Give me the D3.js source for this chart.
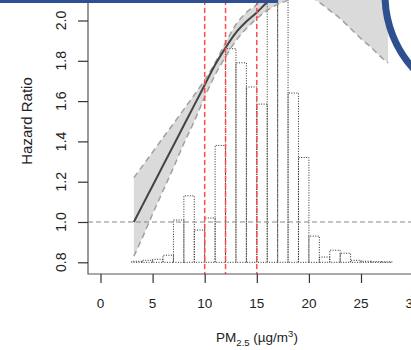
<!DOCTYPE html>
<html>
<head>
<meta charset="utf-8">
<script src="https://cdn.jsdelivr.net/npm/d3@7"></script>
<style>
  body{margin:0;background:#fff;}
  svg{display:block;}
  text{font-family:"Liberation Sans", Arial, sans-serif;fill:#222;}
</style>
</head>
<body>
<svg></svg>
<script>
var w=411;
var h=350;

// spline fit and 95% CI
var pmGrid  =[3.2, 4,    5,    6,    7,    8,    9,    10,   11,   12,   13,   14,   15,   16,   17,   18,   19,   20,   21,   22,   23,   24,   25,   26,   27,   27.6];
var hrFit   =[1.00, 1.08, 1.18, 1.28, 1.38, 1.48, 1.58, 1.68, 1.78, 1.865,1.94, 1.995,2.04, 2.09, 2.13, 2.16, 2.19, 2.21, 2.23, 2.24, 2.25, 2.25, 2.25, 2.24, 2.23, 2.22];
var hrLower =[0.83, 0.92, 1.04, 1.155,1.27, 1.39, 1.50, 1.62, 1.73, 1.82, 1.90, 1.96, 2.01, 2.05, 2.08, 2.10, 2.12, 2.12, 2.09, 2.05, 2.01, 1.96, 1.91, 1.865,1.815,1.79];
var hrUpper =[1.22, 1.276,1.347,1.418,1.488,1.559,1.63, 1.705,1.79, 1.89, 1.98, 2.04, 2.08, 2.15, 2.20, 2.25, 2.30, 2.35, 2.40, 2.45, 2.50, 2.55, 2.60, 2.65, 2.70, 2.73];

// exposure distribution (drawn on the HR scale from 0.8)
var binStart=[3,    4,    5,    6,    7,    8,    9,    10,   11,   12,   13,   14,   15,    16,   17,   18,   19,   20,   21,   22,   23,   24,   25,    26,    27];
var binTop  =[0.805,0.81, 0.815,0.835,1.01, 1.13, 0.96, 1.02, 1.38, 1.86, 1.79, 1.67, 1.585, 2.3,  2.4,  1.64, 1.32, 0.93, 0.826,0.86, 0.845,0.81, 0.805, 0.803, 0.802];

var refLines=[10, 12, 15];
var xTicks=[0, 5, 10, 15, 20, 25, 30];
var yTicks=[0.8, 1.0, 1.2, 1.4, 1.6, 1.8, 2.0];
var yLabels=["0.8", "1.0", "1.2", "1.4", "1.6", "1.8", "2.0"];

var x=d3.scaleLinear().domain([0, 30]).range([100.5, 413.1]);
var y=d3.scaleLinear().domain([0.8, 2.0]).range([262.3, 20.5]);

var axisY=274, axisX=88;

var svg=d3.select("svg").attr("width", w).attr("height", h).style("background", "#fff");

svg.append("defs").append("clipPath").attr("id", "plot")
  .append("rect").attr("x", axisX).attr("y", 0).attr("width", w-axisX+5).attr("height", axisY);

var g=svg.append("g").attr("clip-path", "url(#plot)");

var pts=pmGrid.map(function(p, i){ return {p:p, fit:hrFit[i], lo:hrLower[i], hi:hrUpper[i]}; });

// CI band
g.append("path")
  .datum(pts)
  .attr("d", d3.area().x(function(d){return x(d.p);}).y0(function(d){return y(d.lo);}).y1(function(d){return y(d.hi);}).curve(d3.curveMonotoneX))
  .attr("fill", "#dadada");

// histogram, each bar a dotted rect
g.selectAll("path.bar")
  .data(binStart)
  .enter()
  .append("path")
  .attr("class", "bar")
  .attr("d", function(d, i){
    var x0=x(d), x1=x(d+1), y0=y(0.8), y1=y(binTop[i]);
    return "M"+x0+","+y0+"V"+y1+"H"+x1+"V"+y0+"Z";
  })
  .attr("fill", "none")
  .attr("stroke", "#2a2a2a")
  .attr("stroke-width", 1)
  .attr("stroke-dasharray", "1,1.5");

// reference HR = 1
g.append("line")
  .attr("x1", axisX).attr("x2", w)
  .attr("y1", y(1)).attr("y2", y(1))
  .attr("stroke", "#888").attr("stroke-width", 1.2)
  .attr("stroke-dasharray", "5,3");

// CI borders
["lo", "hi"].forEach(function(k){
  g.append("path")
    .datum(pts)
    .attr("d", d3.line().x(function(d){return x(d.p);}).y(function(d){return y(d[k]);}).curve(d3.curveMonotoneX))
    .attr("fill", "none")
    .attr("stroke", "#a0a0a0").attr("stroke-width", 1.5)
    .attr("stroke-dasharray", "6,4");
});

// fitted curve
g.append("path")
  .datum(pts)
  .attr("d", d3.line().x(function(d){return x(d.p);}).y(function(d){return y(d.fit);}).curve(d3.curveMonotoneX))
  .attr("fill", "none")
  .attr("stroke", "#444").attr("stroke-width", 2);

// guideline values
g.selectAll("line.ref")
  .data(refLines)
  .enter()
  .append("line")
  .attr("class", "ref")
  .attr("x1", function(d){return x(d);}).attr("x2", function(d){return x(d);})
  .attr("y1", 0).attr("y2", axisY)
  .attr("stroke", "#ff4a4a").attr("stroke-width", 1.5)
  .attr("stroke-dasharray", "5,3");

// box (left + bottom)
svg.append("path")
  .attr("d", "M"+axisX+",0V"+axisY+"H"+w)
  .attr("fill", "none").attr("stroke", "#555").attr("stroke-width", 1.2);

// x axis
var xa=svg.append("g").attr("transform", "translate(0,"+axisY+")")
  .call(d3.axisBottom(x).tickValues(xTicks).tickSize(9).tickFormat(""));
xa.select(".domain").remove();
xa.selectAll(".tick line").attr("stroke", "#333").attr("stroke-width", 1.2);

svg.selectAll("text.xt")
  .data(xTicks)
  .enter()
  .append("text")
  .attr("class", "xt")
  .attr("text-anchor", "middle")
  .attr("font-size", "13.5px")
  .attr("transform", function(d){ return "translate("+x(d)+",308)"; })
  .text(function(d){return d;});

// y axis
var ya=svg.append("g").attr("transform", "translate("+axisX+",0)")
  .call(d3.axisLeft(y).tickValues(yTicks).tickSize(10).tickFormat(""));
ya.select(".domain").remove();
ya.selectAll(".tick line").attr("stroke", "#333").attr("stroke-width", 1.2);

svg.selectAll("text.yt")
  .data(yTicks)
  .enter()
  .append("text")
  .attr("class", "yt")
  .attr("text-anchor", "middle")
  .attr("font-size", "14px")
  .attr("transform", function(d){ return "translate(66,"+y(d)+") rotate(-90)"; })
  .text(function(d, i){return yLabels[i];});

svg.append("text")
  .attr("text-anchor", "middle")
  .attr("font-size", "15px")
  .attr("transform", "translate(32,121) rotate(-90)")
  .text("Hazard Ratio");

var xt=svg.append("text")
  .attr("text-anchor", "middle")
  .attr("x", 257).attr("y", 342)
  .attr("font-size", "13.5px");
xt.append("tspan").text("PM");
xt.append("tspan").attr("font-size", "9.5px").attr("dy", 4).text("2.5");
xt.append("tspan").attr("dy", -4).text(" (\u00b5g/m");
xt.append("tspan").attr("font-size", "9.5px").attr("dy", -5).text("3");
xt.append("tspan").attr("dy", 5).text(")");

// slide decoration: blue strip on top and ring on the right
svg.append("rect").attr("x", 0).attr("y", 0).attr("width", 278).attr("height", 3).attr("fill", "#2e5090");
svg.append("circle").attr("cx", 495).attr("cy", -5).attr("r", 110)
  .attr("fill", "none").attr("stroke", "#2e5090").attr("stroke-width", 7);
</script>
</body>
</html>
